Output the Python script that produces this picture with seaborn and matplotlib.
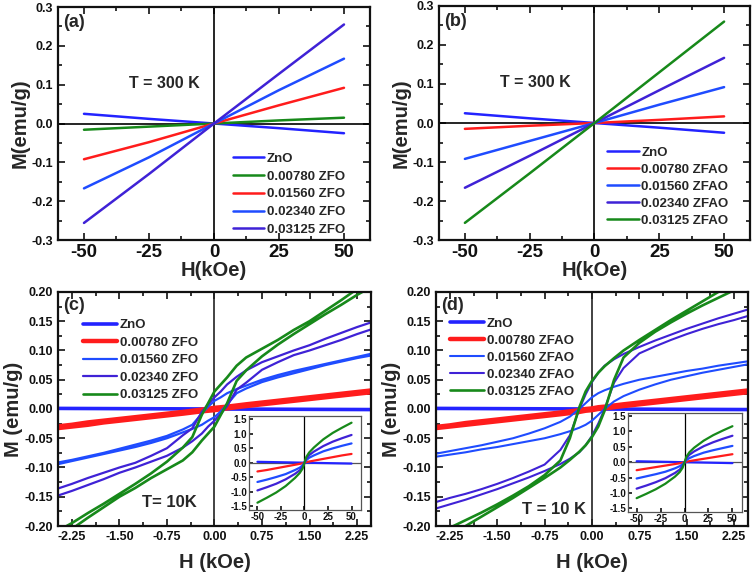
import matplotlib
matplotlib.use('Agg')
import matplotlib.pyplot as plt
from matplotlib.ticker import MultipleLocator, FixedLocator, FormatStrFormatter
import seaborn as sns

# --- data: room temperature M-H (panels a, b) ---
H_RT = [-50, -25, 0, 25, 50]
LABELS_A = ['ZnO', '0.00780 ZFO', '0.01560 ZFO', '0.02340 ZFO', '0.03125 ZFO']
M_A_ZNO = [0.025, 0.012, 0.0, -0.012, -0.025]
M_A_0078 = [-0.016, -0.008, 0.0, 0.008, 0.015]
M_A_0156 = [-0.092, -0.048, 0.0, 0.047, 0.092]
M_A_0234 = [-0.167, -0.087, 0.0, 0.086, 0.167]
M_A_03125 = [-0.256, -0.130, 0.0, 0.128, 0.255]

LABELS_B = ['ZnO', '0.00780 ZFAO', '0.01560 ZFAO', '0.02340 ZFAO', '0.03125 ZFAO']
M_B_ZNO = [0.025, 0.012, 0.0, -0.012, -0.025]
M_B_0078 = [-0.015, -0.007, 0.0, 0.008, 0.017]
M_B_0156 = [-0.092, -0.046, 0.0, 0.047, 0.092]
M_B_0234 = [-0.166, -0.084, 0.0, 0.084, 0.167]
M_B_03125 = [-0.256, -0.129, 0.0, 0.130, 0.260]

# --- data: 10 K hysteresis loops (panels c, d), upper = descending branch ---
H_LOOP = [-2.5, -2.25, -2.0, -1.75, -1.5, -1.25, -1.0, -0.75, -0.5, -0.35, -0.2, -0.1,
          0.0, 0.1, 0.2, 0.35, 0.5, 0.75, 1.0, 1.25, 1.5, 1.75, 2.0, 2.25, 2.5]
H_ZNO = [-2.5, 2.5]

C_ZNO = [0.001, -0.001]
C_0078_UP = [-0.030, -0.027, -0.023, -0.020, -0.017, -0.014, -0.011, -0.008, -0.005, -0.003, -0.001, 0.0005,
             0.002, 0.003, 0.004, 0.006, 0.008, 0.011, 0.014, 0.017, 0.020, 0.023, 0.026, 0.029, 0.032]
C_0078_DN = [-0.033, -0.030, -0.027, -0.023, -0.020, -0.017, -0.014, -0.011, -0.008, -0.006, -0.004, -0.003,
             -0.002, -0.0005, 0.001, 0.003, 0.005, 0.008, 0.011, 0.014, 0.017, 0.020, 0.023, 0.026, 0.029]
C_0156_UP = [-0.092, -0.087, -0.081, -0.075, -0.068, -0.061, -0.054, -0.046, -0.035, -0.027, -0.008, 0.004,
             0.014, 0.020, 0.027, 0.034, 0.040, 0.050, 0.058, 0.065, 0.071, 0.077, 0.083, 0.089, 0.095]
C_0156_DN = [-0.095, -0.089, -0.083, -0.077, -0.071, -0.065, -0.058, -0.050, -0.040, -0.034, -0.027, -0.020,
             -0.014, -0.004, 0.008, 0.027, 0.035, 0.046, 0.054, 0.061, 0.068, 0.075, 0.081, 0.087, 0.092]
C_0234_UP = [-0.137, -0.128, -0.118, -0.109, -0.100, -0.092, -0.080, -0.067, -0.045, -0.033, -0.005, 0.008,
             0.020, 0.030, 0.042, 0.055, 0.066, 0.080, 0.090, 0.100, 0.109, 0.120, 0.130, 0.140, 0.149]
C_0234_DN = [-0.149, -0.140, -0.130, -0.120, -0.109, -0.100, -0.090, -0.080, -0.066, -0.055, -0.042, -0.030,
             -0.020, -0.008, 0.005, 0.033, 0.045, 0.067, 0.080, 0.092, 0.100, 0.109, 0.118, 0.128, 0.137]
C_03125_UP = [-0.210, -0.195, -0.178, -0.162, -0.145, -0.128, -0.110, -0.090, -0.066, -0.048, -0.010, 0.010,
              0.030, 0.042, 0.054, 0.074, 0.088, 0.103, 0.118, 0.135, 0.150, 0.168, 0.186, 0.205, 0.218]
C_03125_DN = [-0.218, -0.205, -0.186, -0.168, -0.150, -0.135, -0.118, -0.103, -0.088, -0.074, -0.054, -0.042,
              -0.030, -0.010, 0.010, 0.048, 0.066, 0.090, 0.110, 0.128, 0.145, 0.162, 0.178, 0.195, 0.210]

D_ZNO = [0.001, -0.001]
D_0078_UP = [-0.031, -0.028, -0.024, -0.021, -0.018, -0.015, -0.012, -0.009, -0.006, -0.004, -0.002, 0.0,
             0.001, 0.003, 0.004, 0.006, 0.008, 0.011, 0.014, 0.017, 0.020, 0.023, 0.026, 0.029, 0.032]
D_0078_DN = [-0.033, -0.030, -0.027, -0.024, -0.021, -0.018, -0.015, -0.012, -0.009, -0.007, -0.005, -0.003,
             -0.002, 0.0, 0.001, 0.003, 0.005, 0.008, 0.011, 0.014, 0.017, 0.020, 0.023, 0.026, 0.029]
D_0156_UP = [-0.077, -0.072, -0.067, -0.062, -0.056, -0.050, -0.042, -0.033, -0.022, -0.013, 0.0, 0.010,
             0.020, 0.027, 0.032, 0.038, 0.043, 0.050, 0.055, 0.060, 0.065, 0.069, 0.074, 0.078, 0.082]
D_0156_DN = [-0.082, -0.078, -0.074, -0.069, -0.065, -0.060, -0.055, -0.050, -0.043, -0.038, -0.032, -0.027,
             -0.020, -0.010, 0.0, 0.013, 0.022, 0.033, 0.042, 0.050, 0.056, 0.062, 0.067, 0.072, 0.077]
D_0234_UP = [-0.160, -0.152, -0.145, -0.137, -0.128, -0.118, -0.107, -0.095, -0.070, -0.045, 0.0, 0.025,
             0.046, 0.062, 0.074, 0.085, 0.094, 0.106, 0.117, 0.127, 0.137, 0.146, 0.155, 0.163, 0.171]
D_0234_DN = [-0.171, -0.163, -0.155, -0.146, -0.137, -0.127, -0.117, -0.106, -0.094, -0.085, -0.074, -0.062,
             -0.046, -0.025, 0.0, 0.045, 0.070, 0.095, 0.107, 0.118, 0.128, 0.137, 0.145, 0.152, 0.160]
D_03125_UP = [-0.215, -0.203, -0.190, -0.177, -0.163, -0.148, -0.132, -0.113, -0.088, -0.050, 0.003, 0.030,
              0.048, 0.062, 0.073, 0.087, 0.100, 0.118, 0.135, 0.152, 0.168, 0.184, 0.200, 0.215, 0.230]
D_03125_DN = [-0.230, -0.215, -0.200, -0.184, -0.168, -0.152, -0.135, -0.118, -0.100, -0.087, -0.073, -0.062,
              -0.048, -0.030, -0.003, 0.050, 0.088, 0.113, 0.132, 0.148, 0.163, 0.177, 0.190, 0.203, 0.215]

# --- data: insets (full +-50 kOe sweep at 10 K) ---
H_IN = [-50, -40, -30, -20, -10, -5, -2, 0, 2, 5, 10, 20, 30, 40, 50]
IC_ZNO = [0.03, 0.024, 0.018, 0.012, 0.006, 0.003, 0.001, 0.0, -0.001, -0.003, -0.006, -0.012, -0.018, -0.024, -0.03]
IC_0078 = [-0.30, -0.25, -0.19, -0.13, -0.07, -0.04, -0.02, 0.0, 0.02, 0.04, 0.07, 0.13, 0.19, 0.25, 0.30]
IC_0156 = [-0.66, -0.58, -0.49, -0.39, -0.25, -0.17, -0.09, 0.0, 0.09, 0.17, 0.25, 0.39, 0.49, 0.58, 0.66]
IC_0234 = [-0.95, -0.84, -0.72, -0.57, -0.38, -0.26, -0.14, 0.0, 0.14, 0.26, 0.38, 0.57, 0.72, 0.84, 0.95]
IC_03125 = [-1.37, -1.20, -1.02, -0.80, -0.52, -0.35, -0.20, 0.0, 0.20, 0.35, 0.52, 0.80, 1.02, 1.20, 1.37]

ID_ZNO = [0.03, 0.024, 0.018, 0.012, 0.006, 0.003, 0.001, 0.0, -0.001, -0.003, -0.006, -0.012, -0.018, -0.024, -0.03]
ID_0078 = [-0.26, -0.21, -0.16, -0.11, -0.06, -0.035, -0.015, 0.0, 0.015, 0.035, 0.06, 0.11, 0.16, 0.21, 0.26]
ID_0156 = [-0.53, -0.46, -0.39, -0.31, -0.20, -0.13, -0.07, 0.0, 0.07, 0.13, 0.20, 0.31, 0.39, 0.46, 0.53]
ID_0234 = [-0.86, -0.76, -0.65, -0.52, -0.35, -0.24, -0.13, 0.0, 0.13, 0.24, 0.35, 0.52, 0.65, 0.76, 0.86]
ID_03125 = [-1.17, -1.03, -0.88, -0.70, -0.47, -0.32, -0.18, 0.0, 0.18, 0.32, 0.47, 0.70, 0.88, 1.03, 1.17]

BLUE = '#2323ff'
LBLUE = '#1f4cff'
PURPLE = '#3f22d6'
RED = '#ff1c1c'
GREEN = '#17891a'


def style_axes(ax, xmaj, xmin, ymaj, ymin, lw=1.6):
    ax.xaxis.set_major_locator(MultipleLocator(xmaj))
    ax.xaxis.set_minor_locator(MultipleLocator(xmin))
    ax.yaxis.set_major_locator(MultipleLocator(ymaj))
    ax.yaxis.set_minor_locator(MultipleLocator(ymin))
    ax.tick_params(which='both', direction='in', top=True, right=True, width=1.2, colors='#111111')
    ax.tick_params(which='major', length=5)
    ax.tick_params(which='minor', length=3)
    for sp in ax.spines.values():
        sp.set_linewidth(lw)
        sp.set_color('#111111')


def plot_loop(ax, up, dn, color, lw, label):
    # descending branch from +H to -H, then ascending branch back
    x = H_LOOP[::-1] + H_LOOP
    y = up[::-1] + dn
    sns.lineplot(x=x, y=y, sort=False, estimator=None, ax=ax, color=color, lw=lw, label=label)


def add_legend(ax, anchor, fs=9.5, hl=2.4, spacing=0.42):
    ax.legend(loc='upper left', bbox_to_anchor=anchor, frameon=False, fontsize=fs,
              handlelength=hl, handletextpad=0.2, labelspacing=spacing,
              borderpad=0, borderaxespad=0)


def room_temp_panel(ax, series, labels, colors, tag, t_pos, leg_anchor, spacing):
    ax.axhline(0, color='black', lw=1.2, zorder=1)
    ax.axvline(0, color='black', lw=1.2, zorder=1)
    for m, lab, col in zip(series, labels, colors):
        sns.lineplot(x=H_RT, y=m, ax=ax, color=col, lw=1.8, label=lab)
    ax.set_xlim(-60, 60)
    ax.set_ylim(-0.3, 0.3)
    style_axes(ax, 25, 12.5, 0.1, 0.05)
    ax.yaxis.set_major_formatter(FormatStrFormatter('%.1f'))
    ax.tick_params(axis='x', which='major', labelsize=13.5, pad=3)
    ax.tick_params(axis='y', which='major', labelsize=9)
    ax.set_xlabel('H(kOe)', fontsize=14.5, labelpad=0)
    ax.set_ylabel('M(emu/g)', fontsize=14.5, labelpad=1)
    ax.text(0.015, 0.97, tag, transform=ax.transAxes, fontsize=13, fontweight='bold', va='top')
    ax.text(t_pos[0], t_pos[1], 'T = 300 K', transform=ax.transAxes, fontsize=11.5,
            fontweight='bold', ha='center', va='center')
    add_legend(ax, leg_anchor, spacing=spacing)


def low_temp_panel(ax, loops, labels, colors, widths, tag, t_text, t_pos, leg_anchor, spacing):
    ax.axvline(0, color='#222222', lw=1.2, zorder=1)
    sns.lineplot(x=H_ZNO, y=loops[0], ax=ax, color=colors[0], lw=widths[0], label=labels[0])
    for (up, dn), lab, col, w in zip(loops[1:], labels[1:], colors[1:], widths[1:]):
        plot_loop(ax, up, dn, col, w, lab)
    ax.set_xlim(-2.47, 2.47)
    ax.set_ylim(-0.2, 0.2)
    style_axes(ax, 0.75, 0.375, 0.05, 0.025)
    ax.xaxis.set_major_locator(FixedLocator([-2.25, -1.5, -0.75, 0.0, 0.75, 1.5, 2.25]))
    ax.xaxis.set_major_formatter(FormatStrFormatter('%.2f'))
    ax.yaxis.set_major_formatter(FormatStrFormatter('%.2f'))
    ax.tick_params(axis='both', which='major', labelsize=9)
    ax.set_xlabel('H (kOe)', fontsize=14.5, labelpad=7)
    ax.set_ylabel('M (emu/g)', fontsize=14.5, labelpad=1)
    ax.text(0.016, 0.98, tag, transform=ax.transAxes, fontsize=13, fontweight='bold', va='top')
    ax.text(t_pos[0], t_pos[1], t_text, transform=ax.transAxes, fontsize=12,
            fontweight='bold', ha='center', va='center')
    add_legend(ax, leg_anchor, fs=9.5, hl=2.6, spacing=spacing)


def inset_panel(ax, series, colors):
    ax.axhline(0, color='#555555', lw=0.9, zorder=1)
    ax.axvline(0, color='black', lw=0.9, zorder=1)
    for m, col in zip(series, colors):
        sns.lineplot(x=H_IN, y=m, ax=ax, color=col, lw=1.6)
    ax.set_xlim(-59, 60)
    ax.set_ylim(-1.62, 1.6)
    style_axes(ax, 25, 12.5, 0.5, 0.25, lw=0.9)
    ax.tick_params(which='both', top=False, right=False)
    ax.tick_params(which='major', length=3, labelsize=7, pad=1.5)
    ax.tick_params(which='minor', length=0)
    ax.yaxis.set_major_formatter(FormatStrFormatter('%.1f'))
    for sp in ax.spines.values():
        sp.set_color('#555555')
    ax.set_xlabel('')
    ax.set_ylabel('')


sns.set_theme(style='ticks')
plt.rcParams['font.family'] = ['Liberation Sans', 'DejaVu Sans']
plt.rcParams['font.weight'] = 'bold'
plt.rcParams['axes.labelweight'] = 'bold'
plt.rcParams['axes.unicode_minus'] = False

fig = plt.figure(figsize=(7.54, 5.76), dpi=100)
ax_a = fig.add_axes([0.0769, 0.5833, 0.4138, 0.4045])
ax_b = fig.add_axes([0.5822, 0.5833, 0.4125, 0.4063])
ax_c = fig.add_axes([0.0769, 0.0868, 0.4151, 0.4063])
ax_d = fig.add_axes([0.5782, 0.0868, 0.4138, 0.4063])

room_temp_panel(ax_a, [M_A_ZNO, M_A_0078, M_A_0156, M_A_0234, M_A_03125], LABELS_A,
                [BLUE, GREEN, RED, LBLUE, PURPLE], '(a)', (0.34, 0.67), (0.56, 0.375), 0.42)
room_temp_panel(ax_b, [M_B_ZNO, M_B_0078, M_B_0156, M_B_0234, M_B_03125], LABELS_B,
                [BLUE, RED, LBLUE, PURPLE, GREEN], '(b)', (0.31, 0.675), (0.54, 0.40), 0.36)

low_temp_panel(ax_c, [C_ZNO, (C_0078_UP, C_0078_DN), (C_0156_UP, C_0156_DN),
                      (C_0234_UP, C_0234_DN), (C_03125_UP, C_03125_DN)],
               LABELS_A, [BLUE, RED, LBLUE, PURPLE, GREEN], [2.6, 3.2, 1.6, 1.6, 1.9],
               '(c)', 'T= 10K', (0.355, 0.10), (0.08, 0.885), 0.4)
low_temp_panel(ax_d, [D_ZNO, (D_0078_UP, D_0078_DN), (D_0156_UP, D_0156_DN),
                      (D_0234_UP, D_0234_DN), (D_03125_UP, D_03125_DN)],
               LABELS_B, [BLUE, RED, LBLUE, PURPLE, GREEN], [2.6, 3.2, 1.5, 1.5, 1.9],
               '(d)', 'T = 10 K', (0.378, 0.07), (0.045, 0.89), 0.36)

in_c = fig.add_axes([0.3302, 0.1146, 0.1485, 0.1632])
in_d = fig.add_axes([0.8329, 0.1111, 0.1512, 0.1719])
inset_panel(in_c, [IC_ZNO, IC_0078, IC_0156, IC_0234, IC_03125], [BLUE, RED, LBLUE, PURPLE, GREEN])
inset_panel(in_d, [ID_ZNO, ID_0078, ID_0156, ID_0234, ID_03125], [BLUE, RED, LBLUE, PURPLE, GREEN])

fig.savefig('out.png', dpi=100)
